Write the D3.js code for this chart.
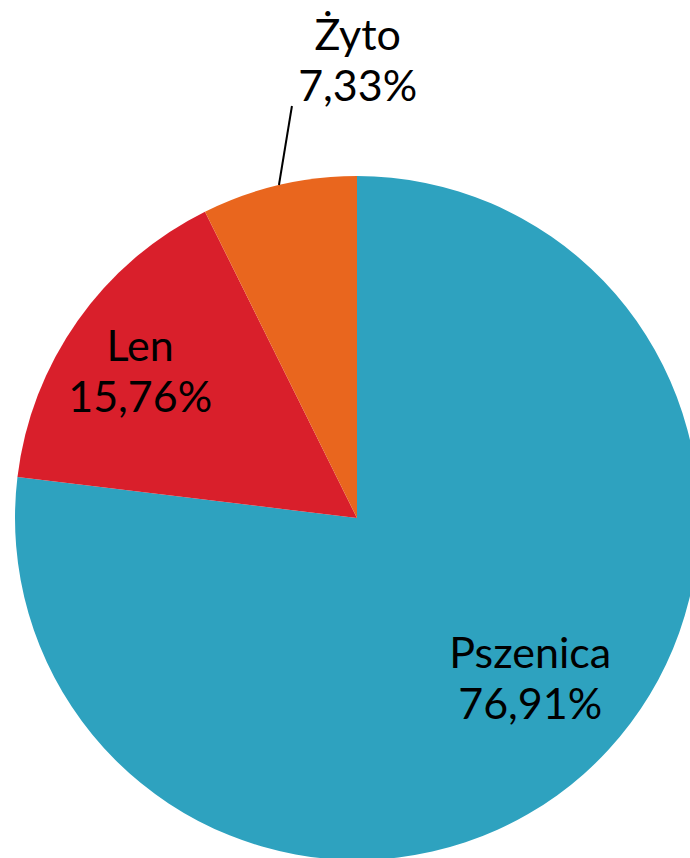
<!DOCTYPE html>
<html>
<head>
<meta charset="utf-8">
<script src="https://cdn.jsdelivr.net/npm/d3@7"></script>
<style>
  body { margin: 0; background: #fff; }
  svg { display: block; }
</style>
</head>
<body>
<div id="chart"></div>
<script>
// Data
const categories = ["Pszenica", "Len", "Żyto"];
const shares = [76.91, 15.76, 7.33];
const colors = ["#2ea2bf", "#d91f2b", "#e9661e"];

const width = 690, height = 858;
const cx = 357, cy = 518, radius = 342;

const svg = d3.select("#chart")
    .append("svg")
    .attr("width", width)
    .attr("height", height);

const g = svg.append("g")
    .attr("transform", `translate(${cx},${cy})`);

const pie = d3.pie().sort(null).value(d => d.value);
const arcs = pie(categories.map((c, i) => ({ name: c, value: shares[i], color: colors[i] })));

const arc = d3.arc().innerRadius(0).outerRadius(radius);

g.selectAll("path")
    .data(arcs)
    .enter()
    .append("path")
    .attr("d", arc)
    .attr("fill", d => d.data.color);

// label placement (radius from centre + nudge), Żyto sits outside with a leader
const labelPos = {
    "Pszenica": { r: 243, dx: 12, dy: -20 },
    "Len": { r: 252, dx: -11, dy: 0 },
    "Żyto": { r: 444, dx: 102, dy: -24 }
};

const fmt = v => v.toFixed(2).replace(".", ",") + "%";

arcs.forEach(d => {
    const p = labelPos[d.data.name];
    const a = (d.startAngle + d.endAngle) / 2;
    const x = Math.sin(a) * p.r + p.dx;
    const y = -Math.cos(a) * p.r + p.dy;

    const t = g.append("text")
        .attr("text-anchor", "middle")
        .attr("font-family", "Lato, sans-serif")
        .attr("font-size", 43)
        .attr("fill", "#000");
    t.append("tspan").attr("x", x).attr("y", y - 12).text(d.data.name);
    t.append("tspan").attr("x", x).attr("y", y + 39).text(fmt(d.data.value));

    if (d.data.name === "Żyto") {
        const e = d3.arc().innerRadius(radius).outerRadius(radius).centroid(d);
        g.append("line")
            .attr("x1", e[0]).attr("y1", e[1])
            .attr("x2", e[0] + 13).attr("y2", e[1] - 79)
            .attr("stroke", "#000")
            .attr("stroke-width", 2);
    }
});
</script>
</body>
</html>
